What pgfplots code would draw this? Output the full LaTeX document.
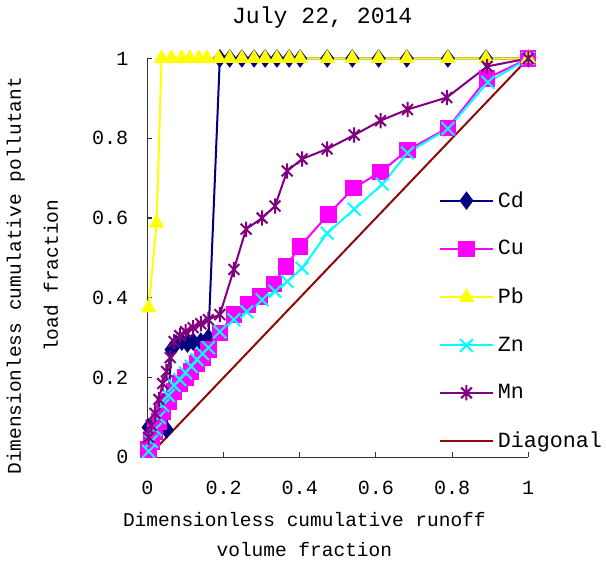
\documentclass[border=0pt]{standalone}
\usepackage{fontspec}
\setmainfont{Liberation Mono}
\usepackage{pgfplots}
\pgfplotsset{compat=1.18}
\definecolor{cdc}{RGB}{0,0,128}
\definecolor{cuc}{RGB}{255,0,255}
\definecolor{pbc}{RGB}{255,255,0}
\definecolor{znc}{RGB}{0,255,255}
\definecolor{mnc}{RGB}{128,0,128}
\definecolor{diac}{RGB}{140,10,10}
\pgfdeclareplotmark{xstar}{%
  \pgfpathmoveto{\pgfqpoint{0pt}{\pgfplotmarksize}}\pgfpathlineto{\pgfqpoint{0pt}{-\pgfplotmarksize}}%
  \pgfpathmoveto{\pgfqpointpolar{45}{\pgfplotmarksize}}\pgfpathlineto{\pgfqpointpolar{225}{\pgfplotmarksize}}%
  \pgfpathmoveto{\pgfqpointpolar{135}{\pgfplotmarksize}}\pgfpathlineto{\pgfqpointpolar{315}{\pgfplotmarksize}}%
  \pgfusepathqstroke}
\begin{document}
\begin{tikzpicture}
\begin{axis}[
  width=189.5pt, height=198.5pt, scale only axis,
  xmin=0, xmax=1, ymin=0, ymax=1, clip=false,
  axis x line=bottom, axis y line=left,
  axis line style={-, line width=0.6pt, black!80},
  tick align=inside, major tick length=2.5pt,
  tick style={black!80, line width=0.5pt},
  xtick={0,0.2,0.4,0.6,0.8,1}, ytick={0,0.2,0.4,0.6,0.8,1},
  /pgf/number format/assume math mode=true,
  tick label style={font=\fontsize{10}{11}\selectfont},
  yticklabel style={xshift=-6pt},
  xticklabel style={yshift=-8.5pt},
  title={July 22, 2014},
  title style={font=\fontsize{11.5}{13}\selectfont, at={(axis description cs:0.459,1)}, anchor=south, yshift=5.5pt},
  xlabel={Dimensionless cumulative runoff\\[4pt]volume fraction},
  xlabel style={font=\fontsize{9.7}{11}\selectfont, align=center, at={(axis description cs:0.412,0)}, anchor=north, yshift=-24pt},
  ylabel={Dimensionless cumulative pollutant\\[7.5pt]load fraction},
  ylabel style={font=\fontsize{9.7}{11}\selectfont, align=center, at={(axis description cs:-0.302,0.455)}, anchor=center},
  legend style={draw=none, fill=none, at={(0.765,0.678)}, anchor=north west, font=\fontsize{10.8}{12}\selectfont, row sep=11pt, inner sep=0pt},
  legend cell align=left,
  legend image code/.code={\draw[mark repeat=2,mark phase=2,#1] plot coordinates {(0cm,0cm) (0.46cm,0cm) (0.92cm,0cm)};},
]
\addplot[cdc, line width=1pt, mark=diamond*, mark size=3.8pt, mark options={fill=cdc}] coordinates {
(0.003,0.075) (0.02,0.08) (0.05,0.07) (0.063,0.27) (0.075,0.285) (0.09,0.29) (0.105,0.285) (0.12,0.29) (0.14,0.29) (0.16,0.30)
(0.19,1) (0.216,1) (0.248,1) (0.280,1) (0.309,1) (0.340,1) (0.372,1) (0.401,1) (0.472,1) (0.538,1) (0.607,1) (0.681,1) (0.789,1) (0.889,1) (1,1)};
\addlegendentry{Cd}
\addplot[cuc, line width=1pt, mark=square*, mark size=3.6pt, mark options={fill=cuc}] coordinates {
(0.003,0.02) (0.01,0.04) (0.02,0.065) (0.03,0.09) (0.04,0.115) (0.055,0.14) (0.07,0.165) (0.085,0.185) (0.1,0.2) (0.115,0.215) (0.13,0.235) (0.145,0.25) (0.16,0.27)
(0.19,0.312) (0.227,0.358) (0.264,0.383) (0.296,0.403) (0.332,0.435) (0.364,0.479) (0.401,0.529) (0.475,0.609) (0.541,0.675) (0.612,0.715) (0.683,0.77) (0.789,0.826) (0.892,0.95) (1,1)};
\addlegendentry{Cu}
\addplot[pbc, line width=1pt, mark=triangle*, mark size=3.5pt, mark options={fill=pbc}] coordinates {
(0.003,0.375) (0.024,0.587) (0.037,1) (0.063,1) (0.09,1) (0.111,1) (0.135,1) (0.156,1)
(0.187,1) (0.216,1) (0.248,1) (0.280,1) (0.309,1) (0.340,1) (0.372,1) (0.401,1) (0.472,1) (0.538,1) (0.607,1) (0.681,1) (0.789,1) (0.889,1) (1,1)};
\addlegendentry{Pb}
\addplot[znc, line width=1pt, mark=x, mark size=4.5pt] coordinates {
(0.003,0.015) (0.01,0.04) (0.02,0.07) (0.03,0.10) (0.04,0.13) (0.055,0.155) (0.07,0.18) (0.085,0.195) (0.1,0.212) (0.115,0.228) (0.13,0.245) (0.145,0.26) (0.16,0.275)
(0.19,0.315) (0.227,0.345) (0.261,0.365) (0.301,0.395) (0.335,0.416) (0.367,0.441) (0.406,0.474) (0.472,0.562) (0.543,0.622) (0.617,0.685) (0.683,0.763) (0.789,0.824) (0.894,0.94) (1,1)};
\addlegendentry{Zn}
\addplot[mnc, line width=1pt, mark=xstar, mark size=3.8pt] coordinates {
(0.003,0.05) (0.01,0.08) (0.02,0.11) (0.03,0.145) (0.04,0.185) (0.05,0.215) (0.06,0.25) (0.07,0.29) (0.085,0.305) (0.1,0.315) (0.12,0.325) (0.14,0.335) (0.16,0.345)
(0.19,0.358) (0.227,0.471) (0.259,0.572) (0.301,0.600) (0.335,0.630) (0.367,0.718) (0.406,0.748) (0.472,0.773) (0.543,0.808) (0.612,0.844) (0.683,0.872) (0.786,0.902) (0.892,0.98) (1,1)};
\addlegendentry{Mn}
\addplot[diac, line width=1pt] coordinates {(0,0) (1,1)};
\addlegendentry{Diagonal}
\end{axis}
\end{tikzpicture}
\end{document}
